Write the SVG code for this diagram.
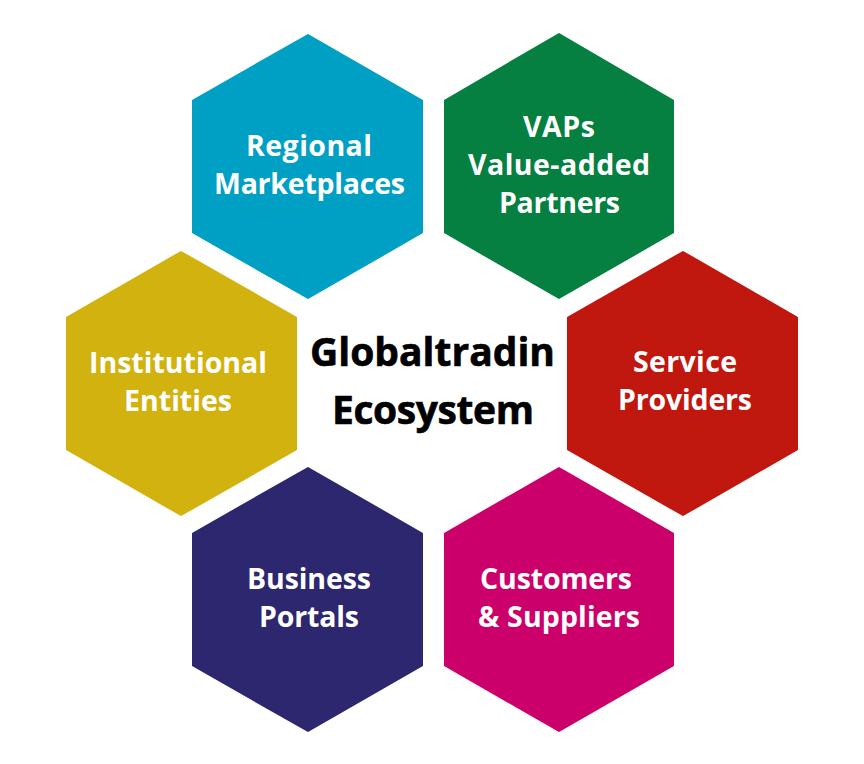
<svg xmlns="http://www.w3.org/2000/svg" width="864" height="764" viewBox="0 0 864 764">
<style>
text{font-family:"Open Sans","Noto Sans",sans-serif;font-weight:700;text-anchor:middle}
.l{font-size:28.5px;fill:#fff}
.c{font-size:39px;fill:#000;stroke:#000;stroke-width:.6px}
polygon{stroke-width:2px;stroke-linejoin:round}
</style>
<rect width="864" height="764" fill="#fff"/>
<g id="regional"><polygon points="308,35 422,100.500 422,232.500 308,298 193,232.500 193,100.500" fill="#00a0c4" stroke="#00a0c4"/><text class="l" x="309" y="156" textLength="126">Regional</text><text class="l" x="309.500" y="194" textLength="191">Marketplaces</text></g>
<g id="vaps"><polygon points="559,34 673,100.500 673,232.500 559,298 445,232.500 445,100.500" fill="#058040" stroke="#058040"/><text class="l" x="559" y="137" textLength="72">VAPs</text><text class="l" x="559" y="175" textLength="182">Value-added</text><text class="l" x="559.500" y="213" textLength="121">Partners</text></g>
<g id="institutional"><polygon points="181,252 296,317.500 296,449.500 181,515 67,449.500 67,317.500" fill="#d2b20f" stroke="#d2b20f"/><text class="l" x="178" y="373" textLength="178">Institutional</text><text class="l" x="178" y="411" textLength="108">Entities</text></g>
<g id="service"><polygon points="683,252 797,317.500 797,449.500 683,515 568,449.500 568,317.500" fill="#c0170f" stroke="#c0170f"/><text class="l" x="685" y="372" textLength="104">Service</text><text class="l" x="685" y="410" textLength="134">Providers</text></g>
<g id="business"><polygon points="308,468 422,533.500 422,665.500 308,731 193,665.500 193,533.500" fill="#2c276e" stroke="#2c276e"/><text class="l" x="309" y="589" textLength="124">Business</text><text class="l" x="309" y="627" textLength="100">Portals</text></g>
<g id="customers"><polygon points="559,468 673,533.500 673,665.500 559,731 445,665.500 445,533.500" fill="#cc006b" stroke="#cc006b"/><text class="l" x="556" y="589" textLength="152">Customers</text><text class="l" x="559" y="627" textLength="162">&amp; Suppliers</text></g>
<g id="center"><text class="c" x="432.500" y="366" textLength="245">Globaltradin</text><text class="c" x="433" y="424" textLength="202">Ecosystem</text></g>
<g id="connectors"/>
</svg>
